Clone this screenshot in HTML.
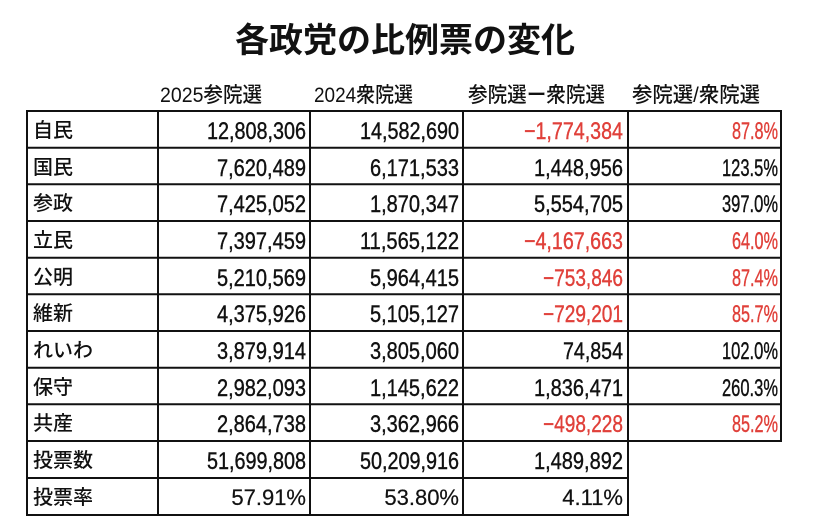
<!DOCTYPE html>
<html><head><meta charset="utf-8"><style>
html,body{margin:0;padding:0;background:#fff;}
svg{display:block}
text{font-family:"Liberation Sans","Noto Sans CJK JP",sans-serif;}
.j{font-family:"Liberation Sans","Noto Sans CJK JP",sans-serif;font-weight:500;font-size:20px;fill:#111}
.n{font-size:24px;fill:#111;text-anchor:end;stroke:#111;stroke-width:0.4}
.n .r{fill:#e0403a;stroke:#e0403a}
</style></head><body>
<svg width="828" height="524" viewBox="0 0 828 524" xmlns="http://www.w3.org/2000/svg">
<text x="405" y="52" text-anchor="middle" style="font-family:'Liberation Sans','Noto Sans CJK JP',sans-serif;font-weight:700;font-size:34px;fill:#111">各政党の比例票の変化</text>
<g class="j" style="font-size:21px">
<text x="160" y="102" textLength="102" lengthAdjust="spacingAndGlyphs">2025参院選</text>
<text x="314" y="102" textLength="99" lengthAdjust="spacingAndGlyphs">2024衆院選</text>
<text x="468" y="102" textLength="137" lengthAdjust="spacingAndGlyphs">参院選ー衆院選</text>
<text x="632" y="102" textLength="128" lengthAdjust="spacingAndGlyphs">参院選/衆院選</text>
</g>
<g stroke="#111" stroke-width="2" fill="none">
<rect x="27" y="111" width="754" height="330"/>
<rect x="27" y="441" width="601" height="74"/>
<line x1="158" y1="111" x2="158" y2="515"/>
<line x1="310" y1="111" x2="310" y2="515"/>
<line x1="463" y1="111" x2="463" y2="515"/>
<line x1="628" y1="111" x2="628" y2="515"/>
<line x1="27" y1="147.7" x2="781" y2="147.7"/>
<line x1="27" y1="184.3" x2="781" y2="184.3"/>
<line x1="27" y1="221" x2="781" y2="221"/>
<line x1="27" y1="257.7" x2="781" y2="257.7"/>
<line x1="27" y1="294.3" x2="781" y2="294.3"/>
<line x1="27" y1="331" x2="781" y2="331"/>
<line x1="27" y1="367.7" x2="781" y2="367.7"/>
<line x1="27" y1="404.3" x2="781" y2="404.3"/>
<line x1="27" y1="478" x2="628" y2="478"/>
</g>
<g class="j">
<text x="33" y="137">自民</text>
<text x="33" y="174">国民</text>
<text x="33" y="210">参政</text>
<text x="33" y="247">立民</text>
<text x="33" y="284">公明</text>
<text x="33" y="320">維新</text>
<text x="33" y="357">れいわ</text>
<text x="33" y="394">保守</text>
<text x="33" y="430">共産</text>
<text x="33" y="467">投票数</text>
<text x="33" y="504">投票率</text>
</g>
<g class="n">
<text x="306" y="139" textLength="99" lengthAdjust="spacingAndGlyphs">12,808,306</text>
<text x="306" y="176" textLength="89" lengthAdjust="spacingAndGlyphs">7,620,489</text>
<text x="306" y="212" textLength="89" lengthAdjust="spacingAndGlyphs">7,425,052</text>
<text x="306" y="249" textLength="89" lengthAdjust="spacingAndGlyphs">7,397,459</text>
<text x="306" y="286" textLength="89" lengthAdjust="spacingAndGlyphs">5,210,569</text>
<text x="306" y="322" textLength="89" lengthAdjust="spacingAndGlyphs">4,375,926</text>
<text x="306" y="359" textLength="89" lengthAdjust="spacingAndGlyphs">3,879,914</text>
<text x="306" y="396" textLength="89" lengthAdjust="spacingAndGlyphs">2,982,093</text>
<text x="306" y="432" textLength="89" lengthAdjust="spacingAndGlyphs">2,864,738</text>
<text x="306" y="469" textLength="99" lengthAdjust="spacingAndGlyphs">51,699,808</text>

<text x="459" y="139" textLength="99" lengthAdjust="spacingAndGlyphs">14,582,690</text>
<text x="459" y="176" textLength="89" lengthAdjust="spacingAndGlyphs">6,171,533</text>
<text x="459" y="212" textLength="89" lengthAdjust="spacingAndGlyphs">1,870,347</text>
<text x="459" y="249" textLength="99" lengthAdjust="spacingAndGlyphs">11,565,122</text>
<text x="459" y="286" textLength="89" lengthAdjust="spacingAndGlyphs">5,964,415</text>
<text x="459" y="322" textLength="89" lengthAdjust="spacingAndGlyphs">5,105,127</text>
<text x="459" y="359" textLength="89" lengthAdjust="spacingAndGlyphs">3,805,060</text>
<text x="459" y="396" textLength="89" lengthAdjust="spacingAndGlyphs">1,145,622</text>
<text x="459" y="432" textLength="89" lengthAdjust="spacingAndGlyphs">3,362,966</text>
<text x="459" y="469" textLength="99" lengthAdjust="spacingAndGlyphs">50,209,916</text>

<text class="r" x="623" y="139" textLength="99" lengthAdjust="spacingAndGlyphs">−1,774,384</text>
<text x="623" y="176" textLength="89" lengthAdjust="spacingAndGlyphs">1,448,956</text>
<text x="623" y="212" textLength="89" lengthAdjust="spacingAndGlyphs">5,554,705</text>
<text class="r" x="623" y="249" textLength="99" lengthAdjust="spacingAndGlyphs">−4,167,663</text>
<text class="r" x="623" y="286" textLength="80" lengthAdjust="spacingAndGlyphs">−753,846</text>
<text class="r" x="623" y="322" textLength="80" lengthAdjust="spacingAndGlyphs">−729,201</text>
<text x="623" y="359" textLength="60" lengthAdjust="spacingAndGlyphs">74,854</text>
<text x="623" y="396" textLength="89" lengthAdjust="spacingAndGlyphs">1,836,471</text>
<text class="r" x="623" y="432" textLength="80" lengthAdjust="spacingAndGlyphs">−498,228</text>
<text x="623" y="469" textLength="89" lengthAdjust="spacingAndGlyphs">1,489,892</text>

<text class="r" x="778" y="139" textLength="46" lengthAdjust="spacingAndGlyphs">87.8%</text>
<text x="778" y="176" textLength="56" lengthAdjust="spacingAndGlyphs">123.5%</text>
<text x="778" y="212" textLength="56" lengthAdjust="spacingAndGlyphs">397.0%</text>
<text class="r" x="778" y="249" textLength="46" lengthAdjust="spacingAndGlyphs">64.0%</text>
<text class="r" x="778" y="286" textLength="46" lengthAdjust="spacingAndGlyphs">87.4%</text>
<text class="r" x="778" y="322" textLength="46" lengthAdjust="spacingAndGlyphs">85.7%</text>
<text x="778" y="359" textLength="56" lengthAdjust="spacingAndGlyphs">102.0%</text>
<text x="778" y="396" textLength="56" lengthAdjust="spacingAndGlyphs">260.3%</text>
<text class="r" x="778" y="432" textLength="46" lengthAdjust="spacingAndGlyphs">85.2%</text>

<text x="306" y="505" style="font-size:22px;stroke-width:0.2">57.91%</text>
<text x="459" y="505" style="font-size:22px;stroke-width:0.2">53.80%</text>
<text x="623" y="505" style="font-size:22px;stroke-width:0.2">4.11%</text>
</g>
</svg>
</body></html>
